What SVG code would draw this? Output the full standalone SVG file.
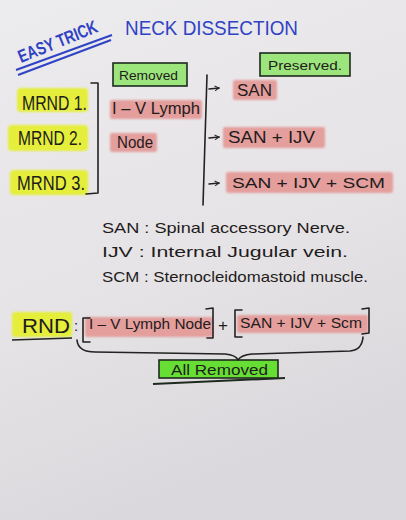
<svg xmlns="http://www.w3.org/2000/svg" width="406" height="520" viewBox="0 0 406 520">
<defs>
<linearGradient id="bg" x1="0" y1="0" x2="0.3" y2="1">
<stop offset="0" stop-color="#ecebee"/>
<stop offset="0.6" stop-color="#e6e3e6"/>
<stop offset="1" stop-color="#dad8dc"/>
</linearGradient>
<filter id="soft" x="-10%" y="-30%" width="120%" height="160%"><feGaussianBlur stdDeviation="1.3"/></filter>
<marker id="ah" viewBox="0 0 10 10" refX="8" refY="5" markerWidth="6" markerHeight="6" orient="auto" markerUnits="userSpaceOnUse"><path d="M1,1 L8,5 L1,9" fill="none" stroke="#222" stroke-width="1.6"/></marker>
</defs>
<style>
.ink{font-family:"Liberation Sans","DejaVu Sans",sans-serif;fill:#1f1c1c}
.blue{font-family:"Liberation Sans","DejaVu Sans",sans-serif;fill:#2f43c4}
.yel{fill:#e4ee3a;filter:url(#soft)}
.pink{fill:#e49e9c;filter:url(#soft)}
.gbox{fill:#9be57c;stroke:#1e2a1e;stroke-width:1.6}
.ln{fill:none;stroke:#222;stroke-width:1.6;stroke-linecap:round;stroke-linejoin:round}
</style>
<rect width="406" height="520" fill="url(#bg)"/>

<g id="title">
<text class="blue" x="0" y="0" font-size="18" font-weight="bold" textLength="84" lengthAdjust="spacingAndGlyphs" transform="translate(21,63) rotate(-22)">EASY TRICK</text>
<line x1="16" y1="70" x2="112" y2="35" stroke="#2f43c4" stroke-width="2"/>
<line x1="18" y1="75" x2="111" y2="40" stroke="#2f43c4" stroke-width="2"/>
<text class="blue" x="125" y="35" font-size="21" textLength="173" lengthAdjust="spacingAndGlyphs">NECK DISSECTION</text>
</g>

<g id="removed-label">
<rect class="gbox" x="113" y="63" width="74" height="23"/>
<text class="ink" x="119" y="80" font-size="13" textLength="59" lengthAdjust="spacingAndGlyphs">Removed</text>
</g>
<g id="preserved-label">
<rect class="gbox" x="260" y="53" width="90" height="23"/>
<text class="ink" x="268" y="70" font-size="13" textLength="74" lengthAdjust="spacingAndGlyphs">Preserved.</text>
</g>

<g id="mrnd1">
<rect class="yel" x="17" y="88" width="71" height="24" rx="4"/>
<text class="ink" x="22" y="110" font-size="21" textLength="65" lengthAdjust="spacingAndGlyphs">MRND 1.</text>
</g>
<g id="mrnd2">
<rect class="yel" x="8" y="125" width="80" height="26" rx="4"/>
<text class="ink" x="18" y="145" font-size="21" textLength="64" lengthAdjust="spacingAndGlyphs">MRND 2.</text>
</g>
<g id="mrnd3">
<rect class="yel" x="10" y="170" width="78" height="25" rx="4"/>
<text class="ink" x="17" y="190" font-size="21" textLength="68" lengthAdjust="spacingAndGlyphs">MRND 3.</text>
</g>

<g id="removed-items">
<rect class="pink" x="110" y="100" width="92" height="19" rx="2"/>
<text class="ink" x="112" y="114" font-size="16" textLength="88" lengthAdjust="spacingAndGlyphs">I – V Lymph</text>
<rect class="pink" x="110" y="133" width="47" height="19" rx="2"/>
<text class="ink" x="117" y="148" font-size="16" textLength="36" lengthAdjust="spacingAndGlyphs">Node</text>
</g>

<g id="preserved-san">
<rect class="pink" x="233" y="80" width="44" height="20" rx="2"/>
<text class="ink" x="237" y="96" font-size="16" textLength="35" lengthAdjust="spacingAndGlyphs">SAN</text>
</g>
<g id="preserved-san-ijv">
<rect class="pink" x="223" y="127" width="102" height="21" rx="2"/>
<text class="ink" x="228" y="143" font-size="16" textLength="87" lengthAdjust="spacingAndGlyphs">SAN + IJV</text>
</g>
<g id="preserved-san-ijv-scm">
<rect class="pink" x="226" y="172" width="167" height="21" rx="3"/>
<text class="ink" x="232" y="188" font-size="15" textLength="153" lengthAdjust="spacingAndGlyphs">SAN + IJV + SCM</text>
</g>

<g id="definitions">
<text class="ink" x="102" y="233" font-size="15" textLength="248" lengthAdjust="spacingAndGlyphs">SAN : Spinal accessory Nerve.</text>
<text class="ink" x="102" y="257" font-size="15" textLength="246" lengthAdjust="spacingAndGlyphs">IJV : Internal Jugular vein.</text>
<text class="ink" x="102" y="282" font-size="15" textLength="266" lengthAdjust="spacingAndGlyphs">SCM : Sternocleidomastoid muscle.</text>
</g>

<g id="rnd">
<rect class="yel" x="12" y="312" width="60" height="25" rx="3"/>
<text class="ink" x="22" y="333" font-size="21" textLength="48" lengthAdjust="spacingAndGlyphs">RND</text>
<text class="ink" x="74" y="331" font-size="15">:</text>
<line x1="12" y1="340" x2="72" y2="338" stroke="#222" stroke-width="1.5"/>
</g>
<g id="rnd-lymph">
<rect class="pink" x="85" y="317" width="128" height="20" rx="2"/>
<text class="ink" x="89" y="329" font-size="14" textLength="122" lengthAdjust="spacingAndGlyphs">I – V Lymph Node</text>
</g>
<g id="rnd-plus">
<text class="ink" x="218" y="331" font-size="17">+</text>
</g>
<g id="rnd-structures">
<rect class="pink" x="237" y="315" width="131" height="18" rx="2"/>
<text class="ink" x="240" y="328" font-size="14" textLength="122" lengthAdjust="spacingAndGlyphs">SAN + IJV + Scm</text>
</g>
<g id="all-removed">
<path d="M153,384 L285,378" stroke="#1e2a1e" stroke-width="2" fill="none"/>
<rect x="159" y="360" width="119" height="18" fill="#66de34" stroke="#1e2a1e" stroke-width="1.6"/>
<text class="ink" x="171" y="375" font-size="14" textLength="97" lengthAdjust="spacingAndGlyphs">All Removed</text>
</g>

<g id="connectors">
<path class="ln" d="M91,83 L98,83 L98,193 L86,194"/>
<path class="ln" d="M207,75 L203,205"/>
<line class="ln" x1="209" y1="89" x2="219" y2="88" marker-end="url(#ah)"/>
<line class="ln" x1="209" y1="138" x2="219" y2="137" marker-end="url(#ah)"/>
<line class="ln" x1="209" y1="184" x2="219" y2="183" marker-end="url(#ah)"/>
<path class="ln" d="M90,318 L83,318 L83,342 L90,342"/>
<path class="ln" d="M206,309 L213,308 L213,338 L207,338"/>
<path class="ln" d="M242,310 L235,310 L235,337 L242,337"/>
<path class="ln" d="M362,309 L369,308 L369,333 L362,334"/>
<path class="ln" d="M77,340 Q78,352 95,352 L225,354 Q236,355 238,360 Q241,355 252,354 L350,351 Q362,350 363,337"/>
</g>
</svg>
